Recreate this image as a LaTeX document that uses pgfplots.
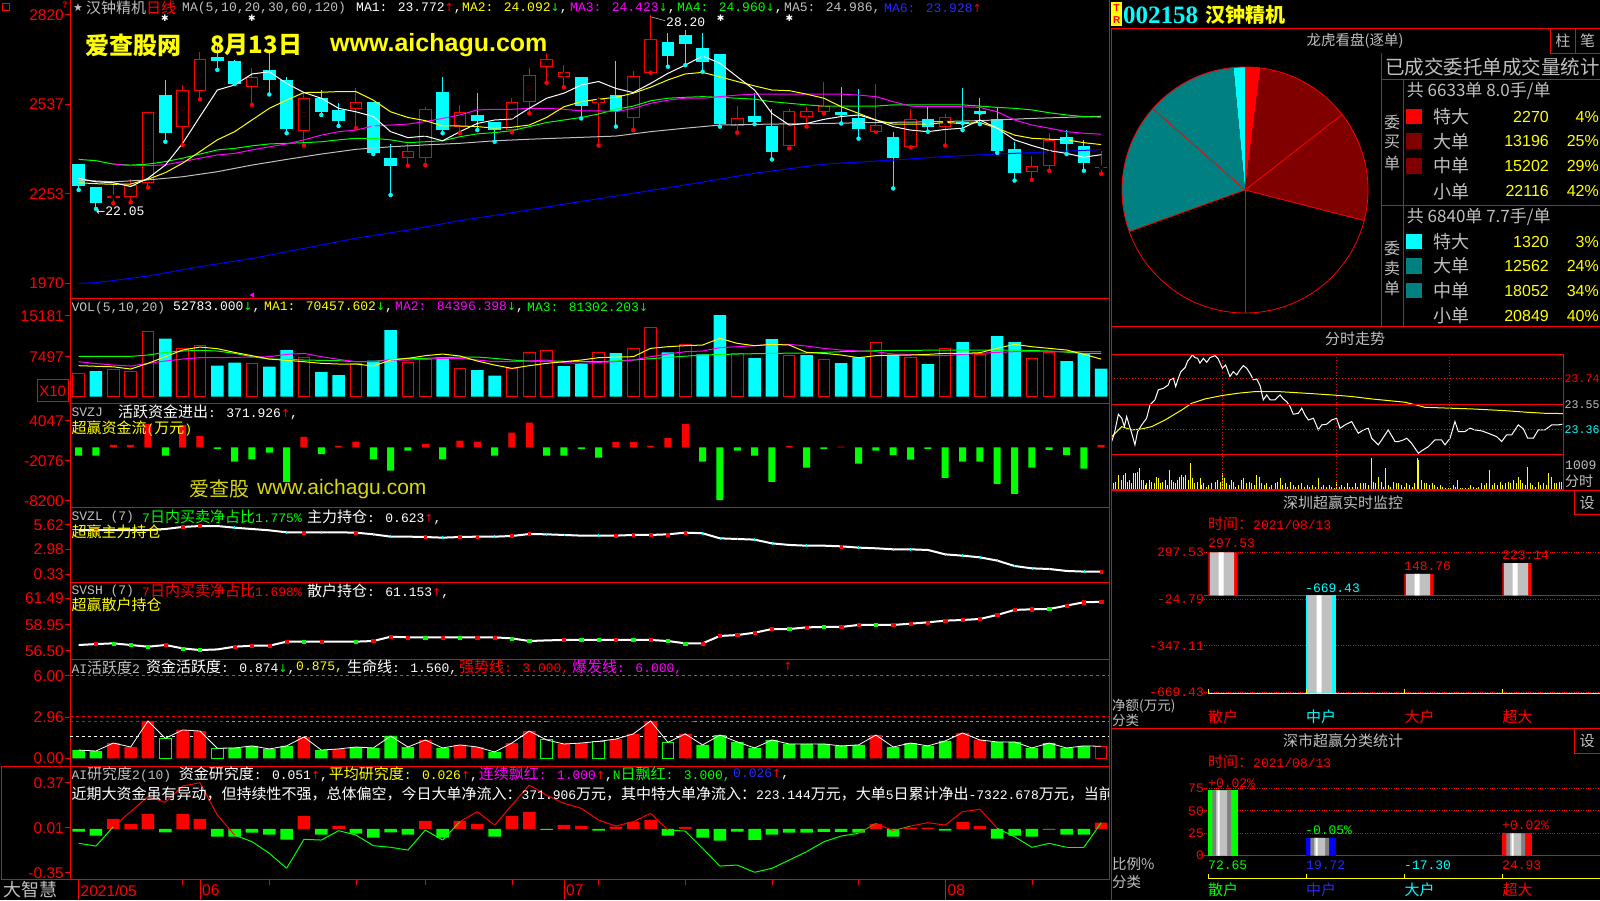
\documentclass[border=0pt]{standalone}
\usepackage{pgfplots}
\pgfplotsset{compat=1.18}
\usepackage{pgfplotstable}
\usepackage{fontspec}
\setmainfont{Liberation Sans}
\newfontfamily\cnf{Noto Sans CJK SC}
\newfontfamily\monof{Liberation Mono}
\newfontfamily\serf{Liberation Serif}
\newfontfamily\dvf{DejaVu Sans}

\definecolor{kred}{RGB}{255,0,0}
\definecolor{kgreen}{RGB}{0,255,0}
\definecolor{kcyan}{RGB}{0,255,255}
\definecolor{kyellow}{RGB}{255,255,0}
\definecolor{kmag}{RGB}{255,0,255}
\definecolor{kblue}{RGB}{0,0,255}
\definecolor{kblue2}{RGB}{40,40,255}
\definecolor{kgray}{RGB}{192,192,192}
\definecolor{kdgray}{RGB}{128,128,128}
\definecolor{kdred}{RGB}{128,0,0}
\definecolor{kteal}{RGB}{0,128,128}
\definecolor{kwm}{RGB}{215,215,20}

\newcommand\hf{\monof\fontsize{13}{15}\selectfont}
\newcommand\zh[1]{{\cnf\fontsize{15}{15}\selectfont#1}}
\newcommand\up{{\dvf\fontsize{11}{11}\selectfont\textcolor{kred}{↑}}}
\newcommand\dn{{\dvf\fontsize{11}{11}\selectfont\textcolor{kgreen}{↓}}}
\newcommand\tx[4][]{\node[anchor=west,inner sep=0pt,text=#2,font=\hf,#1] at (#3) {#4};}
\newcommand\prow[5]{%
  \ifx\relax#2\relax\else\fill[#2] (1406,{#1-7.8}) rectangle (1421.7,{#1+7.8});\fi
  \node[anchor=west,inner sep=0pt,text=kgray,font=\cnf\fontsize{18}{18}\selectfont] at (1433,#1) {#3};
  \node[anchor=east,inner sep=0pt,text=kyellow,font=\fontsize{16}{16}\selectfont] at (1549,#1) {#4};
  \node[anchor=east,inner sep=0pt,text=kyellow,font=\fontsize{16}{16}\selectfont] at (1599,#1) {#5\%};}

% daily candles, prices x100 (up = red hollow, down = cyan)
\pgfplotstableread{
i o h l c
2 2240 2286 2223 2245
3 2242 2300 2226 2281
4 2288 2513 2273 2513
6 2466 2598 2408 2582
7 2580 2702 2553 2679
10 2593 2651 2535 2622
13 2453 2572 2406 2556
16 2521 2587 2461 2543
19 2365 2411 2342 2390
20 2365 2527 2344 2522
22 2466 2535 2445 2511
25 2455 2556 2448 2543
26 2545 2651 2508 2629
27 2654 2698 2605 2679
28 2624 2661 2591 2639
30 2542 2561 2406 2554
32 2494 2642 2455 2627
33 2637 2820 2637 2743
38 2468 2532 2447 2492
41 2406 2522 2397 2515
42 2495 2527 2466 2515
43 2513 2609 2508 2532
46 2450 2600 2450 2470
48 2400 2521 2400 2489
50 2464 2506 2406 2495
55 2321 2374 2297 2342
56 2342 2445 2326 2424
59 2336 2390 2316 2337
}\cup
\pgfplotstableread{
i o h l c
0 2347 2347 2265 2279
1 2273 2273 2205 2223
5 2566 2614 2418 2447
8 2686 2725 2646 2675
9 2674 2677 2601 2601
11 2646 2709 2568 2614
12 2614 2622 2445 2458
14 2556 2582 2503 2513
15 2519 2540 2468 2485
17 2545 2545 2379 2383
18 2365 2411 2249 2342
21 2576 2622 2445 2455
23 2503 2572 2455 2485
24 2481 2481 2418 2455
29 2622 2622 2492 2531
31 2566 2674 2466 2515
34 2733 2762 2656 2690
35 2756 2772 2661 2729
36 2714 2762 2640 2672
37 2696 2696 2466 2474
39 2500 2572 2474 2482
40 2469 2521 2362 2387
44 2511 2591 2476 2503
45 2493 2584 2428 2459
47 2432 2448 2270 2368
49 2489 2531 2450 2466
51 2480 2587 2455 2473
52 2515 2556 2474 2505
53 2489 2524 2383 2390
54 2395 2416 2295 2318
57 2432 2455 2379 2411
58 2405 2424 2326 2350
}\cdn
% MA5 MA10 MA20 MA30
\pgfplotstableread{
i a b c d
0 2302 2288 nan 2362
1 2291 2285 nan 2358
2 2288 2283 2347 2347
3 2276 2284 2342 2344
4 2302 2299 2342 2347
5 2344 2320 2345 2355
6 2413 2350 2355 2366
7 2498 2387 2366 2379
8 2582 2424 2376 2392
9 2598 2450 2381 2397
10 2633 2487 2392 2405
11 2640 2524 2402 2411
12 2603 2550 2411 2413
13 2574 2574 2424 2415
14 2556 2575 2439 2418
15 2524 2577 2450 2424
16 2513 2577 2455 2429
17 2498 2550 2468 2429
18 2450 2513 2471 2424
19 2431 2495 2474 2415
20 2436 2485 2482 2418
21 2421 2468 2492 2421
22 2450 2468 2503 2434
23 2476 2466 2519 2443
24 2487 2461 2521 2447
25 2490 2464 2521 2453
26 2524 2471 2524 2466
27 2556 2495 2524 2479
28 2572 2529 2521 2487
29 2598 2545 2516 2495
30 2609 2553 2516 2506
31 2587 2559 2513 2521
32 2574 2572 2524 2531
33 2603 2591 2540 2548
34 2635 2614 2550 2556
35 2661 2633 2556 2559
36 2690 2638 2556 2561
37 2667 2624 2561 2559
38 2624 2609 2566 2556
39 2582 2595 2569 2553
40 2508 2582 2569 2545
41 2471 2580 2569 2540
42 2476 2569 2569 2535
43 2489 2556 2569 2531
44 2498 2529 2569 2531
45 2503 2508 2566 2531
46 2487 2487 2561 2531
47 2466 2474 2545 2535
48 2455 2474 2531 2535
49 2450 2474 2529 2535
50 2457 2479 2529 2535
51 2461 2476 2529 2535
52 2487 2479 2527 2531
53 2461 2461 2513 2527
54 2424 2439 2487 2524
55 2406 2429 2471 2519
56 2390 2426 2461 2510
57 2381 2424 2450 2503
58 2369 2415 2445 2498
59 2377 2409 2442 2496
}\ma
\pgfplotstableread{
i v
0 2296
2 2291
4 2297
6 2307
8 2323
10 2344
12 2362
14 2379
16 2394
18 2402
20 2408
22 2413
24 2421
26 2426
28 2430
31 2436
33 2450
35 2461
37 2471
40 2474
43 2476
46 2479
49 2481
52 2485
55 2492
59 2499
}\masix
\pgfplotstableread{
i v
0 1969
1 1971
4 1992
7 2022
10 2048
13 2080
16 2112
19 2138
22 2168
25 2193
28 2220
31 2246
35 2281
39 2318
43 2347
47 2360
50 2371
53 2379
56 2386
59 2393
}\mahun
% volume (x10 shares)
\pgfplotstableread{
i v
0 4373
2 5185
3 4810
4 12307
6 9058
7 9683
10 6247
13 7434
16 6247
19 6434
20 6997
22 5310
25 5310
26 8308
27 8683
30 8308
32 9058
33 12994
35 9808
38 8121
41 7809
43 6997
46 10183
48 7371
50 9058
52 7996
55 7184
56 8308
}\vup
\pgfplotstableread{
i v
1 4810
5 10870
8 5810
9 6372
11 5622
12 8746
14 4623
15 4061
17 6747
18 12494
21 7371
23 4998
24 3936
28 5747
29 6122
31 8184
34 8308
36 7934
37 15305
39 7247
40 10807
42 7809
44 6309
45 7371
47 7809
49 6122
51 10245
53 11370
54 10245
57 6684
58 7996
59 5278
}\vdn
\pgfplotstableread{
i a b
0 5810 6559
1 5700 6200
2 5600 5935
3 5185 5747
4 6247 6247
5 7496 6684
6 8746 7059
7 9300 7309
8 9000 7309
9 8300 7371
10 7684 7434
11 7059 7496
12 6809 7934
13 6559 8121
14 6247 7496
15 6122 6997
16 6122 6559
17 5747 6559
18 6872 6872
19 7184 6872
20 7684 6997
21 7996 7184
22 7621 7184
23 6684 6872
24 5935 6559
25 5310 6559
26 5810 6684
27 6247 6872
28 6559 6372
29 6872 6247
30 7309 6434
31 7434 6559
32 7496 6872
33 9058 7496
34 9370 7996
35 9558 8433
36 9683 8558
37 10932 9183
38 9995 9370
39 9558 9558
40 9808 9808
41 9683 9808
42 8308 9495
43 8121 9058
44 7809 8746
45 7309 8558
46 7684 8433
47 7809 7996
48 7809 7934
49 7934 7684
50 8121 7684
51 8121 7934
52 8246 8121
53 9058 8308
54 9808 8433
55 9370 8433
56 9058 8433
57 8746 8433
58 7934 8433
59 7046 8440
}\vma
\pgfplotstableread{
i v
0 7559
3 7559
4 7809
5 8308
6 8558
7 8683
8 8558
9 8121
10 7496
11 7059
12 6997
13 6872
14 6809
15 6747
16 6559
17 6559
18 6997
19 7184
20 7184
21 7309
22 7434
23 7434
24 7184
25 6872
26 6684
27 6684
30 6559
32 6872
34 7371
36 7809
38 7996
40 8121
42 8184
44 8433
46 8621
48 8683
50 8746
52 8746
54 8746
56 8558
58 8121
59 8130
}\vmg
% SVZJ active fund flow
\pgfplotstableread{
i v
0 -1286
1 -1286
2 360
3 360
4 3549
5 -1286
6 3446
7 1749
8 -257
9 -2211
10 -1851
11 -823
12 -5297
13 1594
14 -1029
15 206
16 874
17 -1851
18 -3600
19 -514
20 514
21 -1851
22 1029
23 874
24 -1286
25 2263
26 3806
27 -1286
28 -1286
29 -257
30 -1594
31 823
32 823
33 206
34 1440
35 3600
36 -2211
37 -8100
38 -514
39 -1286
40 -5297
41 206
42 -3137
43 -257
44 100
45 -2520
46 -514
47 -1183
48 -1903
49 -257
50 -4680
51 -2211
52 -2211
53 -5606
54 -7149
55 -3137
56 -411
57 -1183
58 -3292
59 372
}\svzj
\pgfplotstableread{
i v m
0 5.08 n
1 5.08 r
2 5.08 n
3 5.08 n
4 5.08 n
5 5.19 n
6 5.41 r
7 5.51 r
8 5.51 n
9 5.33 c
10 5.19 n
11 5.05 n
12 4.83 c
13 4.83 r
14 4.83 c
15 4.83 n
16 4.80 r
17 4.62 c
18 4.37 c
19 4.37 n
20 4.33 r
21 4.26 c
22 4.33 r
23 4.37 r
24 4.37 c
25 4.44 r
26 4.65 r
27 4.62 c
28 4.55 c
29 4.48 n
30 4.48 c
31 4.48 r
32 4.55 r
33 4.55 r
34 4.62 r
35 4.80 r
36 4.73 c
37 4.19 c
38 4.12 c
39 4.05 c
40 3.65 c
41 3.48 n
42 3.40 c
43 3.40 n
44 3.33 r
45 3.19 c
46 3.12 n
47 3.01 c
48 3.01 c
49 2.94 n
50 2.47 c
51 2.33 c
52 2.15 c
53 1.80 c
54 1.22 c
55 0.97 c
56 0.90 c
57 0.69 n
58 0.62 c
59 0.62 r
}\svzl
\pgfplotstableread{
i v m
0 57.04 n
1 57.13 r
2 57.20 g
3 57.04 g
4 56.88 g
5 57.04 r
6 56.72 g
7 56.56 g
8 56.62 n
9 56.88 r
10 56.97 r
11 56.97 r
12 57.36 r
13 57.36 g
14 57.36 r
15 57.36 n
16 57.36 g
17 57.42 r
18 57.83 r
19 57.77 r
20 57.77 g
21 57.77 r
22 57.77 g
23 57.77 r
24 57.77 r
25 57.67 g
26 57.42 g
27 57.48 n
28 57.52 r
29 57.52 g
30 57.52 g
31 57.52 r
32 57.52 g
33 57.52 r
34 57.42 g
35 57.20 g
36 57.20 r
37 57.90 r
38 57.99 r
39 58.21 r
40 58.56 r
41 58.56 g
42 58.72 r
43 58.76 g
44 58.76 r
45 58.95 r
46 58.95 g
47 58.95 r
48 59.07 r
49 59.20 r
50 59.36 r
51 59.42 r
52 59.52 r
53 59.90 r
54 60.38 r
55 60.44 r
56 60.47 g
57 60.79 r
58 61.11 r
59 61.15 r
}\svsh
% AI activity: k 0 green, 1 red, 2 hollow green, 3 hollow red
\pgfplotstableread{
i v k
0 0.60 0
1 0.53 0
2 1.11 1
3 0.82 1
4 2.71 1
5 1.45 2
6 2.06 1
7 1.98 1
8 0.73 2
9 0.75 0
10 0.90 0
11 0.68 0
12 0.90 0
13 1.55 1
14 0.60 0
15 0.68 1
16 0.82 0
17 0.75 0
18 1.62 0
19 0.82 0
20 1.33 1
21 0.75 0
22 0.97 1
23 0.82 1
24 0.46 0
25 1.11 1
26 1.98 1
27 1.33 2
28 1.04 1
29 1.11 1
30 1.23 2
31 1.40 1
32 1.77 1
33 2.71 1
34 1.16 2
35 1.77 1
36 0.97 0
37 1.69 0
38 1.19 0
39 0.75 0
40 1.33 0
41 1.04 0
42 1.04 0
43 1.04 0
44 0.90 0
45 0.97 0
46 1.69 1
47 0.82 0
48 1.11 0
49 0.90 0
50 1.26 0
51 1.84 1
52 1.33 1
53 1.19 0
54 1.19 0
55 0.75 0
56 1.11 0
57 0.75 0
58 0.90 0
59 0.874 3
}\aih
\pgfplotstableread{
i v
0 -0.021
1 -0.053
2 0.08
3 0.04
4 0.12
5 -0.027
6 0.12
7 0.08
8 -0.061
9 -0.061
10 -0.029
11 -0.045
12 -0.085
13 0.104
14 -0.045
15 0.024
16 -0.037
17 -0.069
18 -0.027
19 -0.045
20 0.064
21 -0.069
22 0.064
23 0.04
24 -0.061
25 0.104
26 0.136
27 -0.008
28 0.032
29 0.024
30 -0.013
31 0.019
32 0.056
33 0.072
34 -0.053
35 0.016
36 -0.069
37 -0.093
38 -0.021
39 -0.088
40 -0.045
41 -0.029
42 -0.029
43 -0.024
44 -0.024
45 -0.029
46 0.04
47 -0.061
48 0.011
49 0.011
50 -0.013
51 0.056
52 0.024
53 -0.077
54 -0.053
55 -0.061
56 -0.005
57 -0.045
58 -0.045
59 0.051
}\airb
\pgfplotstableread{
i v
0 -0.115
1 -0.137
2 0.018
3 0.138
4 0.258
5 0.213
6 0.343
7 0.370
8 0.111
9 -0.049
10 -0.102
11 -0.195
12 -0.315
13 -0.083
14 -0.089
15 -0.014
16 -0.049
17 -0.134
18 -0.147
19 -0.169
20 -0.009
21 -0.089
22 0.058
23 0.138
24 0.031
25 0.191
26 0.351
27 0.270
28 0.205
29 0.165
30 0.071
31 0.023
32 0.058
33 0.125
34 -0.009
35 -0.017
36 -0.155
37 -0.297
38 -0.289
39 -0.347
40 -0.315
41 -0.249
42 -0.182
43 -0.102
44 -0.057
45 -0.035
46 0.045
47 -0.014
48 0.023
49 0.050
50 0.031
51 0.138
52 0.157
53 0.005
54 -0.062
55 -0.147
56 -0.115
57 -0.147
58 -0.147
59 0.050
}\airl
% intraday, minute / price
\pgfplotstableread{
m p
0.35 23.270
1.8 23.332
3.9 23.475
5.7 23.445
7.1 23.382
8.3 23.457
9.6 23.395
11.0 23.332
12.7 23.245
14.1 23.345
16.3 23.395
18.9 23.445
20.7 23.545
23.3 23.583
25.1 23.658
27.8 23.670
30.4 23.695
31.3 23.733
33.1 23.745
34.3 23.683
35.7 23.745
37.1 23.795
39.3 23.825
40.7 23.875
41.9 23.895
43.2 23.920
44.6 23.900
46.0 23.895
47.2 23.858
49.0 23.895
50.8 23.865
52.5 23.900
55.2 23.915
56.9 23.890
59.1 23.820
60.8 23.845
63.1 23.758
64.9 23.795
66.7 23.770
68.4 23.808
70.2 23.840
72.0 23.820
73.7 23.783
75.5 23.733
77.3 23.740
79.1 23.690
80.8 23.583
82.6 23.620
84.4 23.583
87.0 23.583
89.7 23.620
91.4 23.590
93.2 23.570
95.0 23.533
96.7 23.475
99.4 23.482
101.2 23.520
102.9 23.470
104.7 23.432
107.4 23.445
110.0 23.357
111.8 23.395
114.4 23.400
117.1 23.432
119.7 23.445
121.5 23.370
124.2 23.395
127.7 23.420
131.2 23.332
133.9 23.357
136.5 23.370
138.3 23.295
141.8 23.245
143.6 23.282
147.1 23.357
150.7 23.270
152.5 23.270
155.1 23.282
156.9 23.295
159.5 23.257
163.1 23.182
164.8 23.200
168.4 23.232
171.9 23.282
175.4 23.282
177.2 23.245
179.9 23.295
182.5 23.420
184.3 23.345
187.8 23.345
190.5 23.370
193.1 23.357
196.7 23.350
200.2 23.332
204.6 23.307
207.3 23.270
209.9 23.320
212.6 23.320
216.1 23.395
218.8 23.365
221.1 23.295
224.1 23.295
226.7 23.357
230.3 23.357
233.8 23.395
237.3 23.395
239.5 23.400
}\ftprice
\pgfplotstableread{
m p
0.35 23.307
5.7 23.382
11.0 23.357
16.3 23.365
21.6 23.382
28.7 23.432
37.5 23.507
42.8 23.557
49.9 23.590
58.7 23.615
67.6 23.633
76.4 23.645
88.8 23.645
102.9 23.633
117.1 23.620
127.7 23.608
138.3 23.590
156.0 23.565
163.1 23.540
166.6 23.527
180.7 23.520
191.4 23.515
209.0 23.502
220.5 23.490
230.3 23.482
240 23.480
}\ftavg
\pgfplotstableread{
x v
20 500
25 200
32 250
40 450
48 300
55 450
60 500
67 250
73 300
80 200
85 500
92 500
97 550
102 650
108 300
115 300
120 150
125 200
133 300
140 250
148 200
153 400
160 350
167 200
173 250
180 300
186 150
193 600
198 300
205 250
212 200
218 300
224 400
230 450
236 400
242 450
249 300
255 800
262 350
268 200
276 250
285 350
290 150
296 200
303 100
310 150
320 200
330 250
338 300
345 250
352 500
358 350
365 200
372 150
378 300
385 250
392 100
400 150
408 300
415 350
425 200
432 250
440 200
448 150
455 450
462 400
470 200
478 150
485 200
492 100
500 150
510 200
518 250
525 350
532 150
540 200
548 100
556 250
565 150
572 100
580 150
590 200
598 100
606 150
614 100
622 150
630 100
640 350
648 100
656 150
664 100
672 150
680 100
688 50
695 250
702 100
710 150
718 100
726 200
734 100
742 100
750 200
758 100
766 200
774 200
782 200
790 150
798 950
804 250
812 200
820 400
828 250
836 100
843 650
850 150
858 100
866 250
874 200
882 200
890 150
898 100
906 200
914 150
922 100
930 200
937 950
942 900
950 300
958 200
966 200
974 150
982 200
990 150
998 100
1006 150
1014 100
1022 50
1030 50
1038 50
1046 150
1052 100
1058 300
1066 50
1074 50
1082 50
1090 50
1098 150
1106 100
1114 50
1122 100
1130 200
1138 150
1146 200
1154 600
1162 150
1170 200
1178 150
1186 250
1194 150
1202 200
1210 250
1218 200
1226 300
1234 200
1240 400
1246 300
1254 200
1262 150
1268 700
1276 200
1284 150
1292 100
1300 250
1308 150
1316 200
1324 150
1332 500
1340 400
1348 200
1356 200
1364 250
1370 250
}\ftvol
\pgfplotstableread{
x v
0 297.53
1 -669.43
2 148.76
3 223.14
}\szdata
\pgfplotstableread{
x v
0 72.65
1 19.72
2 -17.30
3 24.93
}\ssdata

\pgfplotsset{
  colormap={rg}{color(0cm)=(kgreen) color(10cm)=(kgreen) color(10.1cm)=(kred) color(20cm)=(kred)},
  kp/.style={scale only axis, width=1039pt, anchor=south west,
    xmin=-0.5, xmax=59.45, xtick=\empty, scaled y ticks=false,
    axis line style={draw=kred, line width=1pt},
    ytick pos=left, tick align=outside, major tick length=5pt,
    ytick style={draw=kred, line width=1pt},
    yticklabel style={font=\fontsize{15.5}{16}\selectfont, text=kred, inner sep=1pt}},
  rp/.style={scale only axis, width=396pt, anchor=south west,
    xmin=-0.194, xmax=3.847, xtick=\empty, scaled y ticks=false,
    axis line style={draw=none}, major tick length=0pt,
    ymajorgrids, grid style={kred, dotted, line width=1pt},
    yticklabel style={font=\monof\fontsize{13}{13}\selectfont, text=kred, inner sep=0pt}},
  wick/.style={color=#1, only marks, mark=none, mark options={draw=none, fill=none}, forget plot,
    error bars/.cd, y dir=plus, y explicit,
    error mark=none, error bar style={draw=#1, line width=1pt}},
  body/.style 2 args={color=#1, only marks, mark=none, mark options={draw=none, fill=none}, forget plot,
    error bars/.cd, y dir=both, y explicit,
    error mark=none, error bar style={draw=#1, line width=#2}},
}

\begin{document}
\begin{tikzpicture}
\useasboundingbox (0,0) rectangle (1600pt,900pt);
\fill[black] (0,0) rectangle (1600pt,900pt);

% ---- daily K line
\begin{axis}[kp, at={(70pt,601pt)}, height=299pt, ymin=1919.3, ymax=2867.6,
  ytick={1970,2253,2537,2820}, yticklabels={1970,2253,2537,2820}]
\addplot[wick=kcyan] table[x=i, y=l, y error expr=\thisrow{h}-\thisrow{l}] {\cdn};
\addplot[body={kcyan}{12.5pt}] table[x=i, y expr={(\thisrow{o}+\thisrow{c})/2},
  y error expr={max(abs(\thisrow{c}-\thisrow{o})/2,1.6)}] {\cdn};
\addplot[wick=kred] table[x=i, y=l, y error expr=\thisrow{h}-\thisrow{l}] {\cup};
\addplot[body={kred}{12.5pt}] table[x=i, y expr={(\thisrow{o}+\thisrow{c})/2},
  y error expr={max(abs(\thisrow{c}-\thisrow{o})/2,1.6)}] {\cup};
\addplot[body={black}{10.5pt}] table[x=i, y expr={(\thisrow{o}+\thisrow{c})/2},
  y error expr={max(abs(\thisrow{c}-\thisrow{o})/2-3.2,0)}] {\cup};
\addplot[kblue, line width=1pt] table[x=i, y=v] {\mahun};
\addplot[kgray, line width=1pt] table[x=i, y=v] {\masix};
\addplot[kgreen, line width=1pt] table[x=i, y=d] {\ma};
\addplot[kmag, line width=1pt] table[x=i, y=c] {\ma};
\addplot[kyellow, line width=1pt] table[x=i, y=b] {\ma};
\addplot[white, line width=1pt] table[x=i, y=a] {\ma};
\end{axis}

% ---- volume
\begin{axis}[kp, at={(70pt,496pt)}, height=105pt, ymin=-1368, ymax=18309,
  ytick={7497,15181}, yticklabels={7497,15181}]
\addplot[ybar, bar shift=0pt, bar width=12.5pt, fill=kcyan, draw=none] table[x=i, y=v] {\vdn};
\addplot[ybar, bar shift=0pt, bar width=11.5pt, fill=black, draw=kred, line width=1pt] table[x=i, y=v] {\vup};
\addplot[kgreen, line width=1pt] table[x=i, y=v] {\vmg};
\addplot[kmag, line width=1pt] table[x=i, y=b] {\vma};
\addplot[kyellow, line width=1pt] table[x=i, y=a] {\vma};
\end{axis}

% ---- SVZJ
\begin{axis}[kp, at={(70pt,392pt)}, height=104pt, ymin=-9325, ymax=6660,
  ytick={-8200,-2076,4047}, yticklabels={-8200,-2076,4047}]
\addplot[ybar, bar shift=0pt, bar width=7pt, fill=kred, draw=none, restrict y to domain=0:100000] table[x=i, y=v] {\svzj};
\addplot[ybar, bar shift=0pt, bar width=7pt, fill=kgreen, draw=none, restrict y to domain=-100000:0] table[x=i, y=v] {\svzj};
\end{axis}

% ---- SVZL
\begin{axis}[kp, at={(70pt,317.7pt)}, height=74.3pt, ymin=-0.528, ymax=7.444,
  ytick={0.33,2.98,5.62}, yticklabels={0.33,2.98,5.62}]
\addplot[white, line width=2pt] table[x=i, y=v] {\svzl};
\addplot[scatter, only marks, mark size=1.4pt, point meta=explicit symbolic,
  scatter/classes={r={mark=square*,kred}, c={mark=|,kcyan}, n={mark=none}}] table[x=i, y=v, meta=m] {\svzl};
\end{axis}

% ---- SVSH
\begin{axis}[kp, at={(70pt,240.7pt)}, height=77pt, ymin=55.68, ymax=63.01,
  ytick={56.50,58.95,61.49}, yticklabels={56.50,58.95,61.49}]
\addplot[white, line width=2pt] table[x=i, y=v] {\svsh};
\addplot[scatter, only marks, mark size=1.6pt, point meta=explicit symbolic,
  scatter/classes={r={mark=square*,kred}, g={mark=square*,kgreen}, n={mark=none}}] table[x=i, y=v, meta=m] {\svsh};
\end{axis}

% ---- AI activity
\begin{axis}[kp, at={(70pt,133.3pt)}, height=107.4pt, ymin=-0.61, ymax=7.191,
  ytick={0,2.96,6}, yticklabels={0.00,2.96,6.00}]
\addplot[kmag, line width=1pt, dash pattern=on 3pt off 3pt] coordinates {(-0.5,6) (59.45,6)};
\addplot[kred, line width=1pt, dash pattern=on 3pt off 3pt] coordinates {(-0.5,3) (59.45,3)};
\addplot[kred, line width=1pt, dash pattern=on 3pt off 3pt] coordinates {(-0.5,2.66) (8.5,2.66)};
\addplot[kgreen, line width=1pt, dash pattern=on 3pt off 3pt] coordinates {(8.5,2.66) (27,2.66)};
\addplot[kred, line width=1pt, dash pattern=on 3pt off 3pt] coordinates {(27,2.66) (35.5,2.66)};
\addplot[kgreen, line width=1pt, dash pattern=on 3pt off 3pt] coordinates {(35.5,2.66) (59.45,2.66)};
\addplot[white, line width=1pt, dash pattern=on 3pt off 3pt] coordinates {(-0.5,1.56) (59.45,1.56)};
\addplot[ybar, bar shift=0pt, bar width=12.5pt, fill=kgreen, draw=none,
  restrict expr to domain={\thisrow{k}}{0:0}] table[x=i, y=v] {\aih};
\addplot[ybar, bar shift=0pt, bar width=12.5pt, fill=kred, draw=none,
  restrict expr to domain={\thisrow{k}}{1:1}] table[x=i, y=v] {\aih};
\addplot[ybar, bar shift=0pt, bar width=11.5pt, fill=black, draw=kgreen, line width=1pt,
  restrict expr to domain={\thisrow{k}}{2:2}] table[x=i, y=v] {\aih};
\addplot[ybar, bar shift=0pt, bar width=11.5pt, fill=black, draw=kred, line width=1pt,
  restrict expr to domain={\thisrow{k}}{3:3}] table[x=i, y=v] {\aih};
\addplot[white, line width=0.8pt] table[x=i, y=v] {\aih};
\end{axis}

% ---- AI research
\begin{axis}[kp, at={(70pt,20.7pt)}, height=112.6pt, ymin=-0.403, ymax=0.498,
  ytick={-0.35,0.01,0.37}, yticklabels={-0.35,0.01,0.37}]
\addplot[ybar, bar shift=0pt, bar width=12.5pt, fill=kred, draw=none, restrict y to domain=0:1] table[x=i, y=v] {\airb};
\addplot[ybar, bar shift=0pt, bar width=12.5pt, fill=kgreen, draw=none, restrict y to domain=-1:0] table[x=i, y=v] {\airb};
\addplot[mesh, line width=1pt, point meta=y, point meta min=-1, point meta max=1, colormap name=rg] table[x=i, y=v] {\airl};
\end{axis}

% ---- intraday price and volume
\begin{axis}[at={(1111pt,445pt)}, anchor=south west, scale only axis, width=452.3pt, height=100.7pt,
  xmin=0, xmax=240, ymin=23.169, ymax=23.925, hide axis]
\addplot[kyellow, line width=1pt] table[x=m, y=p] {\ftavg};
\addplot[white, line width=1pt] table[x=m, y=p] {\ftprice};
\end{axis}
\begin{axis}[at={(1111pt,410pt)}, anchor=south west, scale only axis, width=452.3pt, height=35pt,
  xmin=18, xmax=1375, ymin=0, ymax=1050, hide axis]
\addplot[ycomb, kyellow, line width=1pt, mark=none] table[x=x, y=v] {\ftvol};
\end{axis}

% ---- Shenzhen real time monitor
\begin{axis}[rp, at={(1204pt,207.3pt)}, height=140.4pt, ymin=-669.43, ymax=297.53,
  ytick={-669.43,-347.11,-24.79,297.53}, yticklabels={-669.43,-347.11,-24.79,297.53}]
\addplot[kred, line width=1pt] coordinates {(-0.194,0) (3.847,0)};
\addplot[ybar, bar shift=0pt, bar width=29.4pt, fill=kred, draw=none, restrict y to domain=0:1000] table[x=x, y=v] {\szdata};
\addplot[ybar, bar shift=0pt, bar width=29.4pt, fill=kcyan, draw=none, restrict y to domain=-1000:0] table[x=x, y=v] {\szdata};
\addplot[ybar, bar shift=-1pt, bar width=24pt, fill=kgray, draw=none] table[x=x, y=v] {\szdata};
\addplot[ybar, bar shift=-2pt, bar width=5pt, fill=white, draw=none] table[x=x, y=v] {\szdata};
\end{axis}

% ---- Shenzhen classification
\begin{axis}[rp, at={(1204pt,44.3pt)}, height=67.4pt, ymin=0, ymax=75,
  ytick={0,25,50,75}, yticklabels={0,25,50,75}]
\addplot[kred, line width=1pt] coordinates {(-0.194,0) (3.847,0)};
\addplot[ybar, bar shift=0pt, bar width=29.4pt, fill=kgreen, draw=none, restrict x to domain=-0.5:0.5] table[x=x, y=v] {\ssdata};
\addplot[ybar, bar shift=0pt, bar width=29.4pt, fill=kblue, draw=none, restrict x to domain=0.5:1.5] table[x=x, y=v] {\ssdata};
\addplot[ybar, bar shift=0pt, bar width=29.4pt, fill=kred, draw=none, restrict x to domain=2.5:3.5] table[x=x, y=v] {\ssdata};
\addplot[ybar, bar shift=-1.3pt, bar width=18.7pt, fill=kdgray, draw=none, restrict y to domain=0:100] table[x=x, y=v] {\ssdata};
\addplot[ybar, bar shift=-1.3pt, bar width=11pt, fill=kgray, draw=none, restrict y to domain=0:100] table[x=x, y=v] {\ssdata};
\addplot[ybar, bar shift=-4.5pt, bar width=2pt, fill=white, draw=none, restrict y to domain=0:100] table[x=x, y=v] {\ssdata};
\end{axis}

% ---- pie of entrusted orders (buy right half, sell left half)
\def\pr{123pt}
\pgfmathsetmacro\aA{90-1.8*4}\pgfmathsetmacro\aB{\aA-1.8*25}\pgfmathsetmacro\aC{\aB-1.8*29}
\pgfmathsetmacro\bA{90+1.8*3}\pgfmathsetmacro\bB{\bA+1.8*24}\pgfmathsetmacro\bC{\bB+1.8*34}
\coordinate (pc) at (1245pt,710pt);
\fill[kred] (pc) -- ++(90:\pr) arc[start angle=90, end angle=\aA, radius=\pr] -- cycle;
\fill[kdred] (pc) -- ++(\aA:\pr) arc[start angle=\aA, end angle=\aC, radius=\pr] -- cycle;
\fill[kcyan] (pc) -- ++(90:\pr) arc[start angle=90, end angle=\bA, radius=\pr] -- cycle;
\fill[kteal] (pc) -- ++(\bA:\pr) arc[start angle=\bA, end angle=\bC, radius=\pr] -- cycle;
\foreach \a in {\aB,\aC,-90,\bB,\bC} \draw[kred, line width=0.8pt] (pc) -- ++(\a:\pr);
\draw[kred, line width=0.8pt] (pc) circle[radius=\pr];

% ---- overlay texts, screen coordinates (y down)
\begin{scope}[x=1pt, y=-1pt, shift={(0pt,900pt)}]
% top header of K line
\draw[kred] (2,3) rectangle (9,10);
\node[text=kred, font=\bfseries\fontsize{8}{8}\selectfont, inner sep=0pt] at (65,4.5) {?};
\node[anchor=west, inner sep=0pt, text=kgray, font=\dvf\fontsize{11}{11}\selectfont] at (73,8) {★};
\tx{kgray}{86,8}{\zh{汉钟精机}}
\tx{kred}{146,8}{\zh{日线}}
\tx{kgray}{182,8}{MA(5,10,20,30,60,120)}
\tx{white}{356,8}{MA1: 23.772\up,}
\tx{kyellow}{462,8}{MA2: 24.092\dn\textcolor{white}{,}}
\tx{kmag}{570,8}{MA3: 24.423\dn\textcolor{white}{,}}
\tx{kgreen}{677,8}{MA4: 24.960\dn\textcolor{white}{,}}
\tx{kgray}{784,8}{MA5: 24.986,}
\tx{kblue2}{884,8}{MA6: 23.928\up}
\foreach \sx in {165,252,720.7,789.5}
  \node[text=white, inner sep=0pt, font=\dvf\fontsize{9}{9}\selectfont] at (\sx,18) {✱};
\node[anchor=west, inner sep=0pt, text=kyellow, font=\cnf\bfseries\fontsize{24}{24}\selectfont] at (85.7,45) {爱查股网};
\node[anchor=west, inner sep=0pt, text=kyellow, font=\cnf\bfseries\fontsize{24}{24}\selectfont] at (210,45) {8月13日};
\node[anchor=west, inner sep=0pt, text=kyellow, font=\bfseries\fontsize{25}{25}\selectfont] at (330,45) {www.aichagu.com};
\tx{white}{96,211}{{\dvf\fontsize{11}{11}\selectfont←}22.05}
\draw[white] (650.5,16.7) -- (665,20.7);
\tx{white}{666,22}{28.20}
\fill[kmag] (254,292.5) -- (254,297.5) -- (249.5,295) -- cycle;
% volume header
\tx{kgray}{71.4,307.7}{VOL(5,10,20)}
\tx{white}{173,307.7}{52783.000\dn,}
\tx{kyellow}{264,307.7}{MA1: 70457.602\dn\textcolor{white}{,}}
\tx{kmag}{395,307.7}{MA2: 84396.398\dn\textcolor{white}{,}}
\tx{kgreen}{527,307.7}{MA3: 81302.203\dn}
\draw[kred, line width=1pt] (37.5,380) rectangle (68,402);
\node[text=kred, inner sep=0pt, font=\fontsize{15}{15}\selectfont] at (52.7,391) {X10};
% SVZJ header
\tx{kgray}{71.4,412}{SVZJ}
\tx{white}{118,412}{\zh{活跃资金进出}: 371.926\up,}
\tx{kyellow}{71.4,428.3}{\zh{超赢资金流}(\zh{万元})}
\node[anchor=west, inner sep=0pt, text=kwm, font=\cnf\fontsize{20}{20}\selectfont] at (189,489) {爱查股};
\node[anchor=west, inner sep=0pt, text=kwm, font=\fontsize{21}{21}\selectfont] at (257,489) {www.aichagu.com};
% SVZL / SVSH headers
\tx{kgray}{71.4,517.3}{SVZL (7)}
\tx{kgreen}{142,517.3}{7\zh{日内买卖净占比}1.775\%}
\tx{white}{307,517.3}{\zh{主力持仓}: 0.623\up,}
\tx{kyellow}{71.4,531.7}{\zh{超赢主力持仓}}
\tx{kgray}{71.4,591}{SVSH (7)}
\tx{kred}{142,591}{7\zh{日内买卖净占比}1.698\%}
\tx{white}{307,591}{\zh{散户持仓}: 61.153\up,}
\tx{kyellow}{71.4,605}{\zh{超赢散户持仓}}
% AI activity header
\tx{kgray}{71.4,667.7}{AI\zh{活跃度}2}
\tx{white}{146,667.7}{\zh{资金活跃度}: 0.874\dn,}
\tx{kyellow}{296,667.7}{0.875,}
\tx{white}{347,667.7}{\zh{生命线}: 1.560,}
\tx{kred}{459,667.7}{\zh{强势线}: 3.000,}
\tx{kmag}{572,667.7}{\zh{爆发线}: 6.000,}
\node[text=kred, inner sep=0pt, font=\dvf\fontsize{11}{11}\selectfont] at (788,666) {↑};
% AI research header
\tx{kgray}{71.4,774}{AI\zh{研究度}2(10)}
\tx{white}{178.6,774}{\zh{资金研究度}: 0.051\up,}
\tx{kyellow}{328.6,774}{\zh{平均研究度}: 0.026\up\textcolor{white}{,}}
\tx{kmag}{478.6,774}{\zh{连续飘红}: 1.000\up\textcolor{white}{,}}
\tx{kgreen}{612.7,774}{N\zh{日飘红}: 3.000,}
\tx{kblue2}{733,774}{0.026\up\textcolor{white}{,}}
\begin{scope}
\clip (70,782) rectangle (1108,808);
\node[anchor=west, inner sep=0pt, text=white, font=\cnf\fontsize{15}{15}\selectfont] at (71.4,794.3)
  {近期大资金虽有异动，但持续性不强，总体偏空，今日大单净流入：{\hf 371.906}万元，其中特大单净流入：{\hf 223.144}万元，大单{\hf 5}日累计净出{\hf -7322.678}万元，当前};
\end{scope}
\draw[kred, line width=1pt] (1,766.7) rectangle (70,879.3);
% date row
\foreach \dx in {78.6,200.0,564.1,945.6} \draw[kred, line width=1pt] (\dx,879.3) -- (\dx,900);
\foreach \dx in {182.6,269.3,356.0,425.4,512.1,598.8,685.5,772.2,858.9,1032.3} \draw[kred, line width=1pt] (\dx,879.3) -- (\dx,885);
\node[anchor=west, inner sep=0pt, text=kred, font=\fontsize{15.5}{16}\selectfont] at (80.5,890.5) {2021/05};
\node[anchor=west, inner sep=0pt, text=kred, font=\fontsize{15.5}{16}\selectfont] at (202,890.5) {06};
\node[anchor=west, inner sep=0pt, text=kred, font=\fontsize{15.5}{16}\selectfont] at (566,890.5) {07};
\node[anchor=west, inner sep=0pt, text=kred, font=\fontsize{15.5}{16}\selectfont] at (947.5,890.5) {08};
\node[anchor=west, inner sep=0pt, text=kgray, font=\cnf\fontsize{18}{18}\selectfont] at (3,890) {大智慧};

% right side: title and order statistics
\fill[kyellow] (1111,2) rectangle (1122.3,26);
\node[text=kred, inner sep=0pt, font=\bfseries\fontsize{10}{10}\selectfont] at (1116.6,8) {T};
\node[text=kred, inner sep=0pt, font=\bfseries\fontsize{10}{10}\selectfont] at (1116.6,20) {R};
\node[anchor=west, inner sep=0pt, text=kcyan, font=\serf\bfseries\fontsize{25}{25}\selectfont] at (1123,15) {002158};
\node[anchor=west, inner sep=0pt, text=kyellow, font=\cnf\bfseries\fontsize{20}{20}\selectfont] at (1205,15) {汉钟精机};
\draw[kred, line width=1pt] (1111,28.3) -- (1600,28.3);
\draw[kred, line width=1pt] (1111,28.3) -- (1111,900);
\node[text=kgray, inner sep=0pt, font=\cnf\fontsize{14.5}{15}\selectfont] at (1355,41) {龙虎看盘(逐单)};
\draw[kred, line width=1pt] (1550.7,28.3) rectangle (1575,53.3);
\draw[kred, line width=1pt] (1575,28.3) rectangle (1600,53.3);
\node[text=kgray, inner sep=0pt, font=\cnf\fontsize{15}{15}\selectfont] at (1562.8,41) {柱};
\node[text=kgray, inner sep=0pt, font=\cnf\fontsize{15}{15}\selectfont] at (1587.5,41) {笔};
\draw[kred, line width=1pt] (1381,53.3) -- (1381,327);
\draw[kred, line width=1pt] (1381,80) -- (1600,80);
\draw[kred, line width=1pt] (1403.3,80) -- (1403.3,327);
\draw[kred, line width=1pt] (1381,205.7) -- (1600,205.7);
\node[anchor=west, inner sep=0pt, text=kgray, font=\cnf\fontsize{19.5}{20}\selectfont] at (1385,67) {已成交委托单成交量统计};
\node[anchor=west, inner sep=0pt, text=kgray, font=\cnf\fontsize{17}{17}\selectfont] at (1406.7,91) {共 6633单 8.0手/单};
\prow{116.7}{kred}{特大}{2270}{4}
\prow{141.3}{kdred}{大单}{13196}{25}
\prow{166}{kdred}{中单}{15202}{29}
\prow{191.3}{}{小单}{22116}{42}
\node[anchor=west, inner sep=0pt, text=kgray, font=\cnf\fontsize{17}{17}\selectfont] at (1406.7,217) {共 6840单 7.7手/单};
\prow{241.7}{kcyan}{特大}{1320}{3}
\prow{266}{kteal}{大单}{12562}{24}
\prow{290.7}{kteal}{中单}{18052}{34}
\prow{315.7}{}{小单}{20849}{40}
\foreach \ch/\cy in {委/122.5,买/141.7,单/163.3,委/248.3,卖/268.3,单/288.3}
  \node[text=kgray, inner sep=0pt, font=\cnf\fontsize{16}{16}\selectfont] at (1392,\cy) {\ch};

% intraday frame
\draw[kred, line width=1pt] (1111,327) -- (1600,327);
\node[text=kgray, inner sep=0pt, font=\cnf\fontsize{15}{15}\selectfont] at (1355,339) {分时走势};
\draw[kred, line width=1pt] (1111,354.3) rectangle (1563.3,490);
\draw[kred, line width=1pt] (1111,404.3) -- (1563.3,404.3);
\draw[kred, line width=1pt] (1111,455) -- (1563.3,455);
\draw[kred, line width=1pt, dotted] (1111,379) -- (1563.3,379);
\draw[kred, line width=1pt, dotted] (1111,429.3) -- (1563.3,429.3);
\foreach \vx in {1222.3,1336.7,1449.3} \draw[kred, line width=1pt, dotted] (\vx,354.3) -- (\vx,490);
\node[anchor=west, inner sep=0pt, text=kred, font=\monof\fontsize{11.6}{12}\selectfont] at (1564.5,379) {23.74};
\node[anchor=west, inner sep=0pt, text=kgray, font=\monof\fontsize{11.6}{12}\selectfont] at (1564.5,404.3) {23.55};
\node[anchor=west, inner sep=0pt, text=kcyan, font=\monof\fontsize{11.6}{12}\selectfont] at (1564.5,429.3) {23.36};
\node[anchor=west, inner sep=0pt, text=kgray, font=\monof\fontsize{13}{13}\selectfont] at (1565,465) {1009};
\node[anchor=west, inner sep=0pt, text=kgray, font=\cnf\fontsize{14}{14}\selectfont] at (1565,481) {分时};

% Shenzhen real time monitor frame
\draw[kred, line width=1pt] (1111,491) -- (1600,491);
\node[text=kgray, inner sep=0pt, font=\cnf\fontsize{15}{15}\selectfont] at (1343,503) {深圳超赢实时监控};
\draw[kred, line width=1pt] (1574,491) rectangle (1600,515);
\node[text=kgray, inner sep=0pt, font=\cnf\fontsize{15}{15}\selectfont] at (1587,503) {设};
\tx{kred}{1208,524}{\zh{时间：}2021/08/13}
\tx{kred}{1208,543}{297.53}
\tx{kcyan}{1305,588}{-669.43}
\tx{kred}{1404,566}{148.76}
\tx{kred}{1502,555.7}{223.14}
\draw[kyellow, line width=1pt] (1208,693.5) -- (1600,693.5);
\foreach \vx in {1208,1306.7,1404.3,1502.3} \draw[kyellow, line width=1pt] (\vx,693.5) -- (\vx,689);
\node[anchor=west, inner sep=0pt, text=kred, font=\cnf\fontsize{15}{15}\selectfont] at (1208,716.7) {散户};
\node[anchor=west, inner sep=0pt, text=kcyan, font=\cnf\fontsize{15}{15}\selectfont] at (1306,716.7) {中户};
\node[anchor=west, inner sep=0pt, text=kred, font=\cnf\fontsize{15}{15}\selectfont] at (1404.3,716.7) {大户};
\node[anchor=west, inner sep=0pt, text=kred, font=\cnf\fontsize{15}{15}\selectfont] at (1502.3,716.7) {超大};
\node[anchor=west, inner sep=0pt, text=kgray, font=\cnf\fontsize{13.5}{14}\selectfont] at (1112,706.5) {净额(万元)};
\node[anchor=west, inner sep=0pt, text=kgray, font=\cnf\fontsize{13.5}{14}\selectfont] at (1112,720.5) {分类};

% Shenzhen classification frame
\draw[kred, line width=1pt] (1111,728.3) -- (1600,728.3);
\node[text=kgray, inner sep=0pt, font=\cnf\fontsize{15}{15}\selectfont] at (1343,741) {深市超赢分类统计};
\draw[kred, line width=1pt] (1574,728.3) rectangle (1600,753.3);
\node[text=kgray, inner sep=0pt, font=\cnf\fontsize{15}{15}\selectfont] at (1587,741) {设};
\tx{kred}{1208,762}{\zh{时间：}2021/08/13}
\tx{kred}{1208,783.3}{+0.02\%}
\tx{kgreen}{1305,830}{-0.05\%}
\tx{kred}{1502,825}{+0.02\%}
\tx{kgreen}{1208,865}{72.65}
\tx{kblue2}{1306,865}{19.72}
\tx{kcyan}{1404,865}{-17.30}
\tx{kred}{1502,865}{24.93}
\draw[kyellow, line width=1pt] (1208,878.3) -- (1600,878.3);
\foreach \vx in {1208,1306.7,1404.3,1502.3} \draw[kyellow, line width=1pt] (\vx,878.3) -- (\vx,874);
\node[anchor=west, inner sep=0pt, text=kgreen, font=\cnf\fontsize{15}{15}\selectfont] at (1208,890) {散户};
\node[anchor=west, inner sep=0pt, text=kblue2, font=\cnf\fontsize{15}{15}\selectfont] at (1306,890) {中户};
\node[anchor=west, inner sep=0pt, text=kcyan, font=\cnf\fontsize{15}{15}\selectfont] at (1404.3,890) {大户};
\node[anchor=west, inner sep=0pt, text=kred, font=\cnf\fontsize{15}{15}\selectfont] at (1502.3,890) {超大};
\node[anchor=west, inner sep=0pt, text=kgray, font=\cnf\fontsize{14.5}{15}\selectfont] at (1112,864) {比例\%};
\node[anchor=west, inner sep=0pt, text=kgray, font=\cnf\fontsize{14.5}{15}\selectfont] at (1112,881.7) {分类};
\end{scope}
\end{tikzpicture}
\end{document}
